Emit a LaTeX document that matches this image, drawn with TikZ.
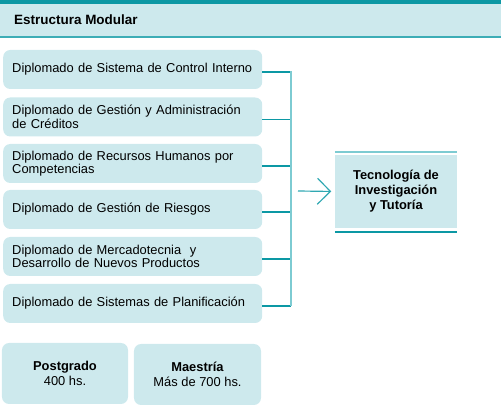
\documentclass[tikz,border=0pt]{standalone}
\usepackage{fontspec}
\setmainfont{Liberation Sans}
\usetikzlibrary{arrows.meta}
\definecolor{modteal}{RGB}{12,152,164}
\definecolor{modline}{RGB}{125,203,210}
\definecolor{modfill}{RGB}{205,233,237}

\tikzset{
  modbox/.style={fill=modfill, rounded corners=6pt, anchor=west,
    minimum width=7.77cm, minimum height=1.17cm, text width=7.23cm,
    inner xsep=0.27cm, align=left, font=\fontsize{11}{11.5}\selectfont},
  gradbox/.style={fill=modfill, rounded corners=6pt,
    minimum height=1.83cm, align=center, font=\fontsize{11}{13}\selectfont},
  hline/.style={modteal, line width=1.4pt},
  vline/.style={modline, line width=2pt}
}

\begin{document}
\begin{tikzpicture}[x=0.03cm, y=-0.03cm]
    \useasboundingbox (0,0) rectangle (501,405);

    % Header
    \fill[modfill] (0,4) rectangle (501,36);
    \fill[modteal] (0,0) rectangle (501,4);
    \fill[modteal!80] (0,36) rectangle (501,38);
    \node[anchor=west, font=\fontsize{11.5}{13}\selectfont\bfseries] (title) at (10,20) {Estructura Modular};

    % Diplomados
    \node[modbox] (d1) at (3,69.5) {Diplomado de Sistema de Control Interno};
    \node[modbox] (d2) at (3,117) {Diplomado de Gestión y Administración\\de Créditos};
    \node[modbox] (d3) at (3,163.5) {Diplomado de Recursos Humanos por\\Competencias};
    \node[modbox] (d4) at (3,209.5) {Diplomado de Gestión de Riesgos};
    \node[modbox] (d5) at (3,256.5) {Diplomado de Mercadotecnia\ \ y\\Desarrollo de Nuevos Productos};
    \node[modbox] (d6) at (3,303.5) {Diplomado de Sistemas de Planificación};

    % Bus
    \coordinate (bustop) at (291,71);
    \coordinate (busbot) at (291,306);
    \foreach \i in {1,...,6} {
        \draw[hline] ([yshift=-2pt]d\i.east) -- ([yshift=-2pt]d\i.east -| bustop);
    }
    \draw[vline] (bustop) -- (busbot);

    % Target
    \node[fill=modfill, minimum width=3.66cm, minimum height=2.19cm, align=center,
          font=\fontsize{11}{12.8}\selectfont\bfseries] (tec) at (396,191.5)
          {Tecnología de\\Investigación\\y Tutoría};
    \draw[modline, line width=2pt] ([yshift=2.2pt]tec.north west) -- ([yshift=2.2pt]tec.north east);
    \draw[modteal, line width=1.4pt] ([yshift=-3pt]tec.south west) -- ([yshift=-3pt]tec.south east);

    \coordinate (arrowstart) at (298,191);
    \draw[modteal!85, line width=1pt, -{Straight Barb[length=3.9mm, width=7.8mm]}, shorten >=3pt]
        (arrowstart) -- (tec.west);

    % Grados
    \node[gradbox, minimum width=3.78cm] (post) at (65,373.5) {\textbf{Postgrado}\\400 hs.};
    \node[gradbox, minimum width=3.81cm] (maes) at (197.5,374.5) {\textbf{Maestría}\\Más de 700 hs.};

\end{tikzpicture}
\end{document}
